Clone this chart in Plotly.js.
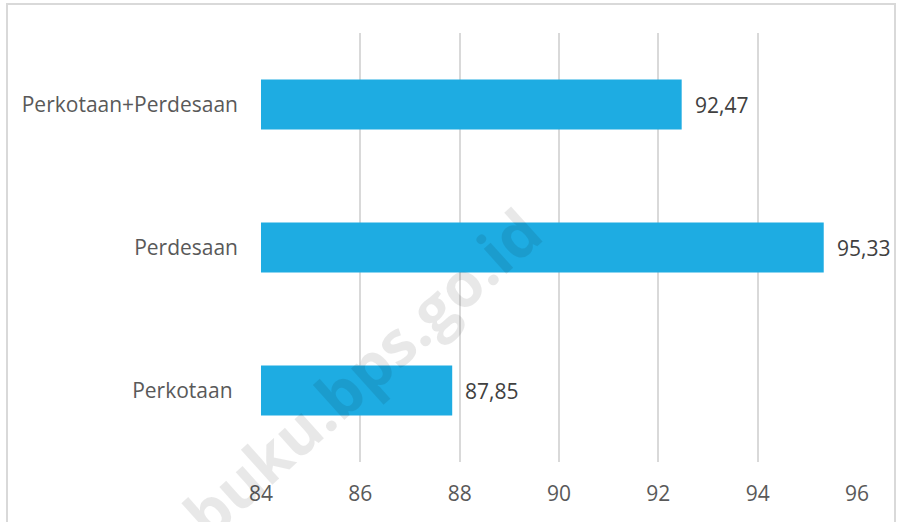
<!DOCTYPE html>
<html>
<head>
<meta charset="utf-8">
<script src="https://cdn.plot.ly/plotly-3.0.1.min.js"></script>
<style>
  html, body { margin: 0; padding: 0; background: #fff; overflow: hidden; }
  #frame { position: absolute; left: 6px; top: 3px; width: 890px; height: 540px; border: 2px solid #d9d9d9; box-sizing: border-box; pointer-events: none; z-index: 5; }
  #chart { position: absolute; left: 0; top: 0; width: 903px; height: 522px; }
</style>
</head>
<body>
<div id="chart"></div>
<div id="frame"></div>
<script>
const categories = ["Perkotaan ", "Perdesaan", "Perkotaan+Perdesaan"];
const values = [87.85, 95.33, 92.47];
const xTicks = [84, 86, 88, 90, 92, 94, 96];
const watermark = "buku.bps.go.id";

const fmt = v => v.toFixed(2).replace('.', ',');
const font = "'Open Sans', sans-serif";

const trace = {
  type: 'bar',
  orientation: 'h',
  y: categories,
  x: values.map(v => v - 84),
  base: 84,
  width: 0.35,
  marker: { color: '#1eace2' },
  hoverinfo: 'skip'
};

const annotations = values.map((v, i) => ({
  x: v, y: categories[i], xref: 'x', yref: 'y',
  text: fmt(v), showarrow: false, xanchor: 'left', xshift: 11,
  font: { family: font, size: 21, color: '#404040' }
}));
annotations.push({
  xref: 'paper', yref: 'paper', x: 0.17, y: 0.21,
  xanchor: 'center', yanchor: 'middle',
  text: '<b>' + watermark + '</b>', showarrow: false, textangle: -42,
  font: { family: "'Open Sans', sans-serif", size: 62, color: 'rgba(0,0,0,0.09)' }
});

const layout = {
  width: 903, height: 522,
  margin: { l: 260, r: 45, t: 33, b: 60 },
  paper_bgcolor: '#fff', plot_bgcolor: '#fff',
  showlegend: false,
  xaxis: {
    range: [83.98, 96.02], tickvals: xTicks, ticktext: xTicks.map(String),
    showgrid: true, gridcolor: '#d9d9d9', gridwidth: 2,
    zeroline: false, showline: false, ticks: '',
    ticklabelstandoff: 17,
    tickfont: { family: font, size: 21, color: '#595959' },
    fixedrange: true
  },
  yaxis: {
    categoryorder: 'array', categoryarray: categories,
    showgrid: false, zeroline: false, showline: false, ticks: '',
    ticklabelstandoff: 21,
    tickfont: { family: font, size: 21, color: '#595959' },
    fixedrange: true
  },
  annotations: annotations
};

Plotly.newPlot('chart', [trace], layout, { staticPlot: true, displayModeBar: false });
</script>
</body>
</html>
